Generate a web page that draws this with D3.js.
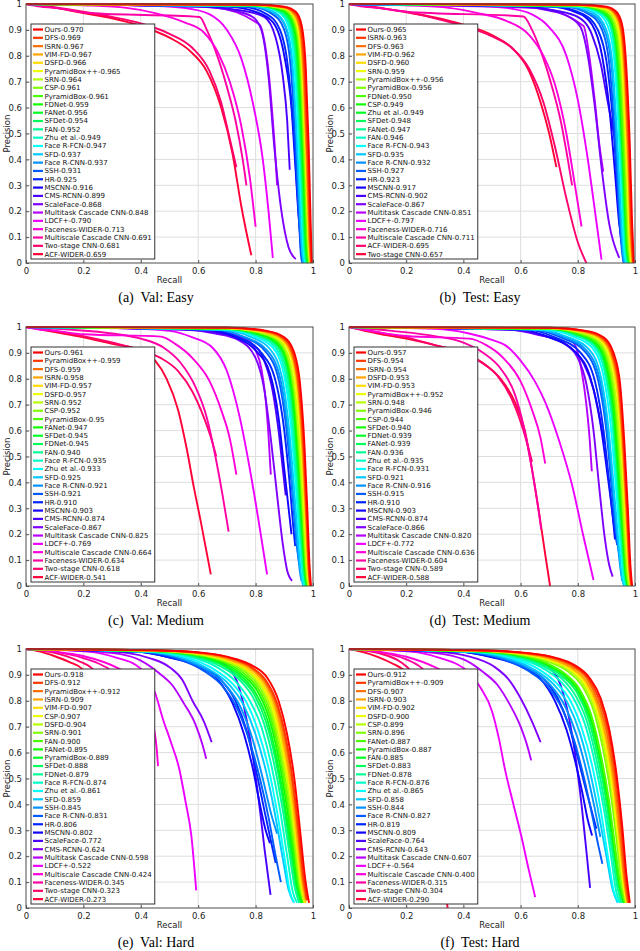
<!DOCTYPE html>
<html>
<head>
<meta charset="utf-8">
<script src="https://cdn.jsdelivr.net/npm/d3@7"></script>
<style>
body { margin: 0; background: #fff; }
text { font-family: "DejaVu Sans", sans-serif; }
.cap { font-family: "Liberation Serif", serif; white-space: pre; }
</style>
</head>
<body>
<svg id="fig" width="640" height="951"></svg>
<script>
var recallTicks = [0, 0.2, 0.4, 0.6, 0.8, 1];
var precisionTicks = [0, 0.1, 0.2, 0.3, 0.4, 0.5, 0.6, 0.7, 0.8, 0.9, 1];

// (a) Val: Easy
var valEasyNames = ['Ours', 'DFS', 'ISRN', 'VIM-FD', 'DSFD', 'PyramidBox++', 'SRN', 'CSP', 'PyramidBox', 'FDNet', 'FANet', 'SFDet', 'FAN', 'Zhu et al.', 'Face R-FCN', 'SFD', 'Face R-CNN', 'SSH', 'HR', 'MSCNN', 'CMS-RCNN', 'ScaleFace', 'Multitask Cascade CNN', 'LDCF+', 'Faceness-WIDER', 'Multiscale Cascade CNN', 'Two-stage CNN', 'ACF-WIDER'];
var valEasyAP = ['0.970', '0.969', '0.967', '0.967', '0.966', '0.965', '0.964', '0.961', '0.961', '0.959', '0.956', '0.954', '0.952', '0.949', '0.947', '0.937', '0.937', '0.931', '0.925', '0.916', '0.899', '0.868', '0.848', '0.790', '0.713', '0.691', '0.681', '0.659'];
var valEasyCurves = [
  [0,1, 0.8,0.998, 0.9,0.99, 0.94,0.97, 0.96,0.92, 0.975,0.75, 0.985,0.45, 0.992,0.15, 0.996,0],
  [0,1, 0.8,0.998, 0.9,0.988, 0.94,0.965, 0.958,0.91, 0.972,0.72, 0.982,0.42, 0.99,0.12, 0.995,0],
  [0,1, 0.8,0.997, 0.9,0.987, 0.935,0.965, 0.955,0.91, 0.97,0.7, 0.98,0.4, 0.988,0.1, 0.993,0],
  [0,1, 0.8,0.997, 0.9,0.986, 0.935,0.96, 0.954,0.9, 0.968,0.7, 0.978,0.4, 0.987,0.1, 0.992,0],
  [0,1, 0.8,0.997, 0.9,0.985, 0.932,0.96, 0.952,0.9, 0.967,0.68, 0.977,0.38, 0.985,0.1, 0.99,0],
  [0,1, 0.8,0.997, 0.9,0.984, 0.93,0.958, 0.951,0.89, 0.966,0.68, 0.977,0.36, 0.986,0.08, 0.99,0],
  [0,1, 0.8,0.996, 0.9,0.983, 0.93,0.955, 0.95,0.88, 0.964,0.66, 0.975,0.35, 0.984,0.08, 0.988,0],
  [0,1, 0.8,0.996, 0.895,0.98, 0.928,0.95, 0.948,0.87, 0.962,0.64, 0.973,0.34, 0.982,0.08, 0.987,0],
  [0,1, 0.8,0.996, 0.895,0.98, 0.926,0.95, 0.946,0.87, 0.96,0.64, 0.972,0.32, 0.98,0.07, 0.986,0],
  [0,1, 0.8,0.995, 0.89,0.978, 0.924,0.945, 0.944,0.86, 0.958,0.62, 0.969,0.32, 0.978,0.06, 0.984,0],
  [0,1, 0.8,0.995, 0.89,0.975, 0.922,0.94, 0.942,0.85, 0.956,0.6, 0.967,0.3, 0.976,0.06, 0.982,0],
  [0,1, 0.8,0.994, 0.885,0.973, 0.92,0.935, 0.94,0.84, 0.954,0.58, 0.965,0.3, 0.974,0.06, 0.98,0],
  [0,1, 0.8,0.994, 0.885,0.972, 0.918,0.93, 0.938,0.83, 0.952,0.57, 0.963,0.28, 0.972,0.05, 0.978,0],
  [0,1, 0.8,0.993, 0.88,0.97, 0.915,0.925, 0.935,0.82, 0.95,0.56, 0.961,0.27, 0.97,0.05, 0.976,0],
  [0,1, 0.8,0.993, 0.88,0.968, 0.912,0.92, 0.932,0.8, 0.947,0.54, 0.958,0.26, 0.967,0.05, 0.973,0],
  [0,1, 0.78,0.992, 0.87,0.965, 0.905,0.915, 0.928,0.78, 0.943,0.5, 0.954,0.24, 0.963,0.04, 0.968,0],
  [0,1, 0.78,0.992, 0.87,0.962, 0.905,0.91, 0.926,0.78, 0.942,0.5, 0.953,0.22, 0.962,0.04, 0.967,0],
  [0,1, 0.78,0.99, 0.86,0.96, 0.9,0.9, 0.922,0.76, 0.938,0.48, 0.95,0.2, 0.958,0.03, 0.963,0],
  [0,1, 0.75,0.99, 0.84,0.96, 0.885,0.9, 0.91,0.78, 0.93,0.55, 0.945,0.28, 0.958,0.05],
  [0,1, 0.7,0.99, 0.8,0.97, 0.86,0.93, 0.9,0.8, 0.925,0.6, 0.94,0.35, 0.952,0.15, 0.958,0.09],
  [0,1, 0.6,0.99, 0.75,0.975, 0.83,0.95, 0.87,0.87, 0.895,0.72, 0.91,0.55, 0.919,0.36],
  [0,1, 0.6,0.99, 0.72,0.975, 0.79,0.95, 0.82,0.9, 0.845,0.72, 0.865,0.45, 0.89,0.2, 0.915,0.06, 0.94,0.015],
  [0,1, 0.5,0.993, 0.652,0.987, 0.815,0.919, 0.83,0.86, 0.845,0.74, 0.858,0.58, 0.868,0.43, 0.875,0.3],
  [0,1, 0.4,0.995, 0.55,0.985, 0.64,0.96, 0.7,0.9, 0.75,0.79, 0.79,0.62, 0.825,0.4, 0.845,0.2, 0.86,0.02],
  [0,1, 0.2,0.995, 0.35,0.985, 0.45,0.965, 0.55,0.93, 0.62,0.89, 0.67,0.81, 0.71,0.7, 0.75,0.53, 0.78,0.33, 0.8,0.14],
  [0,1, 0.05,0.99, 0.1,0.985, 0.22,0.965, 0.605,0.95, 0.63,0.9, 0.66,0.82, 0.7,0.68, 0.73,0.55, 0.755,0.4, 0.768,0.3],
  [0,1, 0.1,0.988, 0.2,0.97, 0.3,0.95, 0.4,0.925, 0.5,0.885, 0.58,0.83, 0.64,0.74, 0.68,0.62, 0.71,0.48, 0.733,0.37],
  [0,1, 0.1,0.985, 0.2,0.965, 0.3,0.945, 0.4,0.915, 0.5,0.87, 0.57,0.82, 0.63,0.74, 0.68,0.6, 0.72,0.42, 0.75,0.22, 0.785,0.03]
];

// (b) Test: Easy
var testEasyNames = ['Ours', 'ISRN', 'DFS', 'VIM-FD', 'DSFD', 'SRN', 'PyramidBox++', 'PyramidBox', 'FDNet', 'CSP', 'Zhu et al.', 'SFDet', 'FANet', 'FAN', 'Face R-FCN', 'SFD', 'Face R-CNN', 'SSH', 'HR', 'MSCNN', 'CMS-RCNN', 'ScaleFace', 'Multitask Cascade CNN', 'LDCF+', 'Faceness-WIDER', 'Multiscale Cascade CNN', 'ACF-WIDER', 'Two-stage CNN'];
var testEasyAP = ['0.965', '0.963', '0.963', '0.962', '0.960', '0.959', '0.956', '0.956', '0.950', '0.949', '0.949', '0.948', '0.947', '0.946', '0.943', '0.935', '0.932', '0.927', '0.923', '0.917', '0.902', '0.867', '0.851', '0.797', '0.716', '0.711', '0.695', '0.657'];
var testEasyCurves = [
  [0,1, 0.8,0.998, 0.9,0.99, 0.935,0.97, 0.955,0.92, 0.97,0.75, 0.982,0.45, 0.99,0.15, 0.996,0],
  [0,1, 0.8,0.997, 0.9,0.988, 0.933,0.965, 0.953,0.91, 0.968,0.72, 0.98,0.42, 0.988,0.12, 0.994,0],
  [0,1, 0.8,0.997, 0.9,0.987, 0.932,0.963, 0.952,0.9, 0.967,0.7, 0.978,0.4, 0.987,0.1, 0.993,0],
  [0,1, 0.8,0.997, 0.9,0.985, 0.93,0.96, 0.95,0.9, 0.965,0.7, 0.976,0.4, 0.985,0.1, 0.991,0],
  [0,1, 0.8,0.996, 0.895,0.984, 0.928,0.958, 0.948,0.89, 0.963,0.68, 0.975,0.38, 0.984,0.08, 0.99,0],
  [0,1, 0.8,0.996, 0.895,0.982, 0.926,0.955, 0.946,0.88, 0.961,0.66, 0.973,0.36, 0.982,0.08, 0.988,0],
  [0,1, 0.8,0.995, 0.89,0.98, 0.923,0.95, 0.944,0.87, 0.959,0.64, 0.971,0.34, 0.98,0.07, 0.986,0],
  [0,1, 0.8,0.995, 0.89,0.978, 0.922,0.948, 0.942,0.86, 0.957,0.63, 0.969,0.33, 0.978,0.07, 0.985,0],
  [0,1, 0.8,0.994, 0.885,0.975, 0.918,0.94, 0.938,0.85, 0.953,0.6, 0.965,0.3, 0.975,0.06, 0.982,0],
  [0,1, 0.8,0.994, 0.885,0.974, 0.917,0.938, 0.937,0.84, 0.952,0.6, 0.964,0.3, 0.974,0.06, 0.981,0],
  [0,1, 0.8,0.993, 0.88,0.972, 0.915,0.935, 0.935,0.84, 0.95,0.58, 0.962,0.28, 0.972,0.05, 0.979,0],
  [0,1, 0.8,0.993, 0.88,0.971, 0.914,0.932, 0.934,0.83, 0.949,0.57, 0.961,0.28, 0.971,0.05, 0.978,0],
  [0,1, 0.8,0.992, 0.875,0.97, 0.912,0.93, 0.932,0.82, 0.947,0.56, 0.959,0.27, 0.969,0.05, 0.976,0],
  [0,1, 0.8,0.992, 0.875,0.968, 0.91,0.925, 0.93,0.81, 0.945,0.55, 0.957,0.26, 0.967,0.04, 0.974,0],
  [0,1, 0.78,0.991, 0.87,0.965, 0.905,0.915, 0.926,0.8, 0.942,0.53, 0.954,0.25, 0.964,0.04, 0.971,0],
  [0,1, 0.78,0.99, 0.86,0.962, 0.898,0.905, 0.92,0.78, 0.937,0.5, 0.95,0.22, 0.96,0.04, 0.966,0],
  [0,1, 0.76,0.99, 0.85,0.96, 0.893,0.9, 0.917,0.77, 0.934,0.5, 0.947,0.22, 0.957,0.04, 0.963,0],
  [0,1, 0.75,0.99, 0.84,0.96, 0.885,0.9, 0.91,0.77, 0.928,0.52, 0.942,0.25, 0.954,0.05, 0.96,0],
  [0,1, 0.72,0.99, 0.82,0.96, 0.87,0.9, 0.9,0.78, 0.922,0.56, 0.938,0.3, 0.95,0.1, 0.958,0.05],
  [0,1, 0.7,0.99, 0.8,0.965, 0.85,0.92, 0.885,0.8, 0.91,0.6, 0.93,0.35, 0.945,0.15, 0.955,0.08],
  [0,1, 0.6,0.99, 0.72,0.975, 0.8,0.95, 0.85,0.88, 0.88,0.77, 0.905,0.62, 0.926,0.5],
  [0,1, 0.6,0.99, 0.7,0.975, 0.77,0.95, 0.81,0.91, 0.835,0.8, 0.86,0.6, 0.885,0.35, 0.91,0.15, 0.945,0.02],
  [0,1, 0.5,0.99, 0.655,0.985, 0.82,0.915, 0.84,0.8, 0.86,0.62, 0.875,0.46, 0.889,0.353],
  [0,1, 0.4,0.995, 0.55,0.985, 0.64,0.96, 0.7,0.91, 0.76,0.8, 0.8,0.63, 0.835,0.4, 0.86,0.2, 0.883,0.013],
  [0,1, 0.2,0.995, 0.35,0.985, 0.45,0.965, 0.55,0.935, 0.63,0.88, 0.68,0.8, 0.72,0.69, 0.76,0.5, 0.79,0.3, 0.813,0.141],
  [0,1, 0.05,0.99, 0.1,0.985, 0.2,0.97, 0.61,0.952, 0.64,0.9, 0.67,0.82, 0.71,0.68, 0.74,0.55, 0.765,0.4, 0.78,0.3],
  [0,1, 0.1,0.985, 0.2,0.97, 0.3,0.945, 0.4,0.915, 0.5,0.875, 0.57,0.83, 0.63,0.75, 0.68,0.62, 0.72,0.45, 0.76,0.25, 0.8,0.08, 0.83,0],
  [0,1, 0.1,0.987, 0.2,0.968, 0.3,0.948, 0.4,0.92, 0.5,0.88, 0.57,0.83, 0.63,0.74, 0.67,0.62, 0.7,0.5, 0.725,0.37]
];

// (c) Val: Medium
var valMediumNames = ['Ours', 'PyramidBox++', 'DFS', 'ISRN', 'VIM-FD', 'DSFD', 'SRN', 'CSP', 'PyramidBox', 'FANet', 'SFDet', 'FDNet', 'FAN', 'Face R-FCN', 'Zhu et al.', 'SFD', 'Face R-CNN', 'SSH', 'HR', 'MSCNN', 'CMS-RCNN', 'ScaleFace', 'Multitask Cascade CNN', 'LDCF+', 'Multiscale Cascade CNN', 'Faceness-WIDER', 'Two-stage CNN', 'ACF-WIDER'];
var valMediumAP = ['0.961', '0.959', '0.959', '0.958', '0.957', '0.957', '0.952', '0.952', '0.95', '0.947', '0.945', '0.945', '0.940', '0.935', '0.933', '0.925', '0.921', '0.921', '0.910', '0.903', '0.874', '0.867', '0.825', '0.769', '0.664', '0.634', '0.618', '0.541'];
var valMediumCurves = [
  [0,1, 0.7,0.998, 0.84,0.985, 0.9,0.96, 0.935,0.9, 0.955,0.78, 0.97,0.55, 0.98,0.3, 0.988,0.08, 0.993,0],
  [0,1, 0.7,0.997, 0.84,0.983, 0.898,0.957, 0.933,0.89, 0.953,0.76, 0.968,0.53, 0.978,0.28, 0.986,0.07, 0.991,0],
  [0,1, 0.7,0.997, 0.84,0.982, 0.896,0.955, 0.931,0.885, 0.951,0.75, 0.966,0.52, 0.977,0.27, 0.985,0.07, 0.99,0],
  [0,1, 0.7,0.997, 0.83,0.982, 0.894,0.953, 0.93,0.88, 0.95,0.74, 0.965,0.5, 0.976,0.26, 0.984,0.06, 0.989,0],
  [0,1, 0.7,0.996, 0.83,0.98, 0.892,0.95, 0.928,0.875, 0.948,0.73, 0.963,0.5, 0.974,0.25, 0.983,0.06, 0.988,0],
  [0,1, 0.7,0.996, 0.83,0.98, 0.89,0.948, 0.926,0.87, 0.946,0.72, 0.962,0.48, 0.973,0.24, 0.982,0.06, 0.987,0],
  [0,1, 0.7,0.995, 0.82,0.978, 0.885,0.945, 0.921,0.86, 0.942,0.7, 0.958,0.46, 0.97,0.22, 0.979,0.05, 0.985,0],
  [0,1, 0.7,0.995, 0.82,0.977, 0.884,0.943, 0.92,0.855, 0.941,0.7, 0.957,0.45, 0.969,0.22, 0.978,0.05, 0.984,0],
  [0,1, 0.7,0.994, 0.82,0.975, 0.882,0.94, 0.918,0.85, 0.939,0.69, 0.955,0.44, 0.967,0.2, 0.976,0.05, 0.982,0],
  [0,1, 0.7,0.994, 0.81,0.974, 0.878,0.937, 0.915,0.845, 0.936,0.68, 0.953,0.43, 0.965,0.2, 0.975,0.04, 0.981,0],
  [0,1, 0.7,0.993, 0.81,0.972, 0.876,0.933, 0.913,0.84, 0.934,0.67, 0.951,0.42, 0.963,0.19, 0.973,0.04, 0.979,0],
  [0,1, 0.7,0.993, 0.81,0.971, 0.875,0.932, 0.912,0.835, 0.933,0.66, 0.95,0.41, 0.962,0.19, 0.972,0.04, 0.978,0],
  [0,1, 0.7,0.992, 0.8,0.97, 0.87,0.93, 0.908,0.83, 0.93,0.65, 0.947,0.4, 0.96,0.18, 0.97,0.04, 0.976,0],
  [0,1, 0.7,0.991, 0.8,0.968, 0.865,0.925, 0.904,0.82, 0.926,0.64, 0.944,0.38, 0.957,0.17, 0.967,0.03, 0.973,0],
  [0,1, 0.7,0.99, 0.79,0.966, 0.86,0.92, 0.9,0.81, 0.923,0.62, 0.941,0.37, 0.955,0.16, 0.965,0.03, 0.971,0],
  [0,1, 0.68,0.99, 0.78,0.963, 0.85,0.915, 0.893,0.8, 0.917,0.6, 0.936,0.35, 0.95,0.15, 0.96,0.03, 0.966,0],
  [0,1, 0.66,0.99, 0.76,0.962, 0.84,0.91, 0.886,0.8, 0.912,0.6, 0.931,0.35, 0.945,0.16, 0.955,0.05, 0.96,0.02],
  [0,1, 0.66,0.99, 0.76,0.96, 0.835,0.905, 0.882,0.79, 0.908,0.6, 0.928,0.36, 0.942,0.17, 0.952,0.087],
  [0,1, 0.64,0.99, 0.74,0.96, 0.82,0.9, 0.87,0.79, 0.9,0.6, 0.92,0.38, 0.932,0.22, 0.938,0.154],
  [0,1, 0.62,0.99, 0.73,0.96, 0.8,0.91, 0.85,0.82, 0.88,0.65, 0.9,0.45, 0.915,0.3, 0.925,0.2],
  [0,1, 0.55,0.99, 0.68,0.975, 0.78,0.94, 0.83,0.87, 0.86,0.75, 0.88,0.6, 0.895,0.45, 0.905,0.35],
  [0,1, 0.55,0.99, 0.66,0.975, 0.74,0.95, 0.8,0.88, 0.83,0.76, 0.855,0.55, 0.875,0.35, 0.895,0.16, 0.91,0.06, 0.927,0.02],
  [0,1, 0.5,0.993, 0.65,0.985, 0.77,0.95, 0.8,0.91, 0.82,0.84, 0.835,0.72, 0.845,0.58, 0.853,0.43],
  [0,1, 0.35,0.995, 0.5,0.985, 0.58,0.96, 0.65,0.92, 0.7,0.83, 0.745,0.65, 0.785,0.42, 0.815,0.22, 0.84,0.045],
  [0,1, 0.05,0.99, 0.1,0.985, 0.2,0.972, 0.47,0.963, 0.52,0.935, 0.58,0.88, 0.64,0.79, 0.68,0.68, 0.71,0.57, 0.733,0.43],
  [0,1, 0.15,0.99, 0.3,0.975, 0.4,0.955, 0.48,0.92, 0.54,0.86, 0.59,0.77, 0.63,0.65, 0.66,0.5, 0.685,0.35, 0.706,0.21],
  [0,1, 0.1,0.985, 0.2,0.965, 0.3,0.94, 0.4,0.91, 0.47,0.88, 0.53,0.83, 0.58,0.75, 0.62,0.65, 0.648,0.56, 0.663,0.5],
  [0,1, 0.1,0.98, 0.2,0.96, 0.3,0.935, 0.4,0.91, 0.45,0.87, 0.49,0.8, 0.53,0.68, 0.56,0.53, 0.585,0.38, 0.607,0.26, 0.644,0.045]
];

// (d) Test: Medium
var testMediumNames = ['Ours', 'DFS', 'ISRN', 'DSFD', 'VIM-FD', 'PyramidBox++', 'SRN', 'PyramidBox', 'CSP', 'SFDet', 'FDNet', 'FANet', 'FAN', 'Zhu et al.', 'Face R-FCN', 'SFD', 'Face R-CNN', 'SSH', 'HR', 'MSCNN', 'CMS-RCNN', 'ScaleFace', 'Multitask Cascade CNN', 'LDCF+', 'Multiscale Cascade CNN', 'Faceness-WIDER', 'Two-stage CNN', 'ACF-WIDER'];
var testMediumAP = ['0.957', '0.954', '0.954', '0.953', '0.953', '0.952', '0.948', '0.946', '0.944', '0.940', '0.939', '0.939', '0.936', '0.935', '0.931', '0.921', '0.916', '0.915', '0.910', '0.903', '0.874', '0.866', '0.820', '0.772', '0.636', '0.604', '0.589', '0.588'];
var testMediumCurves = [
  [0,1, 0.7,0.997, 0.83,0.985, 0.89,0.96, 0.925,0.9, 0.948,0.78, 0.963,0.55, 0.975,0.3, 0.984,0.08, 0.99,0],
  [0,1, 0.7,0.997, 0.83,0.983, 0.888,0.957, 0.923,0.89, 0.946,0.76, 0.961,0.53, 0.973,0.28, 0.982,0.07, 0.988,0],
  [0,1, 0.7,0.997, 0.83,0.982, 0.886,0.955, 0.922,0.885, 0.945,0.75, 0.96,0.52, 0.972,0.27, 0.981,0.07, 0.987,0],
  [0,1, 0.7,0.996, 0.82,0.982, 0.884,0.953, 0.92,0.88, 0.943,0.74, 0.959,0.5, 0.971,0.26, 0.98,0.06, 0.986,0],
  [0,1, 0.7,0.996, 0.82,0.98, 0.882,0.95, 0.918,0.875, 0.941,0.73, 0.957,0.5, 0.969,0.25, 0.979,0.06, 0.985,0],
  [0,1, 0.7,0.996, 0.82,0.98, 0.88,0.948, 0.916,0.87, 0.94,0.72, 0.956,0.48, 0.968,0.24, 0.978,0.06, 0.984,0],
  [0,1, 0.7,0.995, 0.81,0.978, 0.875,0.945, 0.912,0.86, 0.936,0.7, 0.952,0.46, 0.965,0.22, 0.975,0.05, 0.981,0],
  [0,1, 0.7,0.995, 0.81,0.977, 0.873,0.942, 0.91,0.855, 0.934,0.69, 0.95,0.45, 0.963,0.21, 0.973,0.05, 0.98,0],
  [0,1, 0.7,0.994, 0.8,0.975, 0.87,0.94, 0.907,0.85, 0.931,0.68, 0.948,0.44, 0.961,0.2, 0.971,0.05, 0.978,0],
  [0,1, 0.7,0.994, 0.8,0.973, 0.866,0.935, 0.904,0.84, 0.928,0.67, 0.945,0.42, 0.958,0.2, 0.969,0.04, 0.976,0],
  [0,1, 0.7,0.993, 0.8,0.972, 0.864,0.933, 0.902,0.835, 0.926,0.66, 0.943,0.41, 0.957,0.19, 0.968,0.04, 0.975,0],
  [0,1, 0.7,0.993, 0.8,0.971, 0.863,0.932, 0.901,0.83, 0.925,0.66, 0.942,0.41, 0.956,0.19, 0.967,0.04, 0.974,0],
  [0,1, 0.7,0.992, 0.79,0.97, 0.86,0.93, 0.898,0.825, 0.922,0.65, 0.94,0.4, 0.954,0.18, 0.965,0.04, 0.972,0],
  [0,1, 0.7,0.991, 0.79,0.968, 0.856,0.925, 0.895,0.82, 0.92,0.64, 0.938,0.38, 0.952,0.17, 0.963,0.03, 0.97,0],
  [0,1, 0.68,0.99, 0.78,0.965, 0.85,0.92, 0.89,0.81, 0.915,0.62, 0.934,0.37, 0.949,0.16, 0.96,0.03, 0.967,0],
  [0,1, 0.66,0.99, 0.76,0.963, 0.84,0.913, 0.882,0.8, 0.908,0.6, 0.928,0.35, 0.944,0.15, 0.955,0.03, 0.962,0],
  [0,1, 0.65,0.99, 0.75,0.962, 0.83,0.91, 0.876,0.8, 0.903,0.6, 0.924,0.36, 0.94,0.16, 0.95,0.06, 0.955,0.02],
  [0,1, 0.64,0.99, 0.74,0.96, 0.825,0.905, 0.872,0.79, 0.9,0.6, 0.92,0.36, 0.938,0.17, 0.953,0.084],
  [0,1, 0.62,0.99, 0.72,0.96, 0.81,0.9, 0.86,0.79, 0.89,0.6, 0.91,0.4, 0.928,0.22, 0.938,0.158],
  [0,1, 0.6,0.99, 0.7,0.96, 0.79,0.905, 0.845,0.8, 0.88,0.62, 0.905,0.42, 0.922,0.27, 0.93,0.18],
  [0,1, 0.55,0.99, 0.67,0.97, 0.76,0.93, 0.82,0.86, 0.855,0.76, 0.875,0.66, 0.893,0.546],
  [0,1, 0.55,0.99, 0.66,0.97, 0.74,0.945, 0.8,0.88, 0.83,0.78, 0.855,0.6, 0.875,0.38, 0.895,0.18, 0.91,0.08, 0.922,0.036],
  [0,1, 0.5,0.993, 0.66,0.99, 0.78,0.945, 0.8,0.9, 0.815,0.82, 0.83,0.7, 0.842,0.56, 0.849,0.443],
  [0,1, 0.3,0.993, 0.42,0.975, 0.5,0.95, 0.546,0.93, 0.6,0.87, 0.65,0.79, 0.686,0.71, 0.735,0.56, 0.78,0.39, 0.82,0.19, 0.855,0.023],
  [0,1, 0.05,0.99, 0.1,0.98, 0.2,0.965, 0.42,0.955, 0.48,0.93, 0.54,0.88, 0.6,0.79, 0.64,0.68, 0.67,0.57, 0.686,0.473],
  [0,1, 0.15,0.985, 0.3,0.965, 0.4,0.94, 0.47,0.9, 0.53,0.84, 0.58,0.74, 0.61,0.62, 0.635,0.48, 0.655,0.35, 0.672,0.219],
  [0,1, 0.1,0.98, 0.2,0.96, 0.3,0.93, 0.4,0.9, 0.46,0.865, 0.52,0.81, 0.57,0.72, 0.61,0.6, 0.64,0.48],
  [0,1, 0.1,0.975, 0.2,0.955, 0.3,0.93, 0.4,0.9, 0.47,0.86, 0.53,0.8, 0.58,0.71, 0.615,0.6, 0.64,0.45, 0.665,0.28, 0.685,0.13, 0.703,0]
];

// (e) Val: Hard
var valHardNames = ['Ours', 'DFS', 'PyramidBox++', 'ISRN', 'VIM-FD', 'CSP', 'DSFD', 'SRN', 'FAN', 'FANet', 'PyramidBox', 'SFDet', 'FDNet', 'Face R-FCN', 'Zhu et al.', 'SFD', 'SSH', 'Face R-CNN', 'HR', 'MSCNN', 'ScaleFace', 'CMS-RCNN', 'Multitask Cascade CNN', 'LDCF+', 'Multiscale Cascade CNN', 'Faceness-WIDER', 'Two-stage CNN', 'ACF-WIDER'];
var valHardAP = ['0.918', '0.912', '0.912', '0.909', '0.907', '0.907', '0.904', '0.901', '0.900', '0.895', '0.889', '0.888', '0.879', '0.874', '0.861', '0.859', '0.845', '0.831', '0.806', '0.802', '0.772', '0.624', '0.598', '0.522', '0.424', '0.345', '0.323', '0.273'];
var valHardCurves = [
  [0,1, 0.45,0.995, 0.62,0.985, 0.72,0.965, 0.79,0.935, 0.84,0.89, 0.88,0.8, 0.91,0.67, 0.935,0.5, 0.955,0.3, 0.972,0.12, 0.986,0.02],
  [0,1, 0.45,0.995, 0.62,0.984, 0.72,0.963, 0.785,0.93, 0.835,0.88, 0.875,0.79, 0.905,0.66, 0.93,0.49, 0.95,0.3, 0.967,0.12, 0.98,0.03],
  [0,1, 0.45,0.995, 0.62,0.983, 0.72,0.96, 0.785,0.928, 0.833,0.875, 0.872,0.785, 0.902,0.65, 0.928,0.48, 0.948,0.29, 0.965,0.11, 0.978,0.03],
  [0,1, 0.45,0.994, 0.61,0.982, 0.71,0.958, 0.78,0.925, 0.83,0.87, 0.868,0.78, 0.898,0.64, 0.924,0.47, 0.945,0.28, 0.962,0.11, 0.975,0.03],
  [0,1, 0.45,0.994, 0.61,0.981, 0.71,0.955, 0.775,0.92, 0.825,0.865, 0.865,0.77, 0.895,0.63, 0.921,0.46, 0.942,0.27, 0.96,0.1, 0.973,0.02],
  [0,1, 0.45,0.994, 0.61,0.98, 0.705,0.955, 0.775,0.918, 0.823,0.86, 0.862,0.765, 0.893,0.62, 0.92,0.45, 0.942,0.26, 0.96,0.09, 0.975,0.02],
  [0,1, 0.45,0.993, 0.6,0.98, 0.7,0.952, 0.77,0.915, 0.82,0.855, 0.858,0.76, 0.89,0.61, 0.917,0.44, 0.938,0.26, 0.956,0.09, 0.97,0.02],
  [0,1, 0.45,0.993, 0.6,0.978, 0.7,0.95, 0.765,0.91, 0.815,0.85, 0.855,0.75, 0.886,0.6, 0.913,0.43, 0.935,0.25, 0.953,0.09, 0.968,0.02],
  [0,1, 0.45,0.993, 0.6,0.977, 0.695,0.948, 0.76,0.905, 0.81,0.845, 0.85,0.745, 0.882,0.6, 0.91,0.42, 0.933,0.24, 0.952,0.08, 0.97,0.03],
  [0,1, 0.45,0.992, 0.6,0.976, 0.69,0.945, 0.755,0.9, 0.805,0.84, 0.845,0.74, 0.878,0.59, 0.906,0.41, 0.93,0.23, 0.95,0.08, 0.965,0.02],
  [0,1, 0.44,0.992, 0.59,0.975, 0.685,0.94, 0.75,0.895, 0.8,0.83, 0.84,0.73, 0.873,0.58, 0.9,0.41, 0.925,0.23, 0.945,0.08, 0.96,0.02],
  [0,1, 0.44,0.992, 0.59,0.974, 0.68,0.94, 0.745,0.89, 0.795,0.825, 0.836,0.72, 0.87,0.57, 0.898,0.4, 0.922,0.22, 0.942,0.08, 0.958,0.02],
  [0,1, 0.44,0.991, 0.58,0.972, 0.675,0.935, 0.74,0.885, 0.79,0.815, 0.83,0.71, 0.864,0.56, 0.893,0.39, 0.918,0.21, 0.938,0.07, 0.952,0.02],
  [0,1, 0.43,0.99, 0.57,0.97, 0.665,0.93, 0.73,0.875, 0.78,0.8, 0.82,0.7, 0.855,0.55, 0.885,0.38, 0.91,0.2, 0.93,0.06, 0.945,0.02],
  [0,1, 0.42,0.99, 0.56,0.967, 0.65,0.925, 0.72,0.865, 0.77,0.79, 0.81,0.68, 0.845,0.54, 0.875,0.37, 0.9,0.2, 0.92,0.06, 0.935,0.02],
  [0,1, 0.42,0.99, 0.55,0.965, 0.64,0.92, 0.71,0.86, 0.76,0.78, 0.8,0.67, 0.838,0.52, 0.868,0.36, 0.895,0.19, 0.915,0.07, 0.932,0.023],
  [0,1, 0.4,0.99, 0.54,0.963, 0.63,0.918, 0.7,0.855, 0.75,0.77, 0.79,0.65, 0.825,0.5, 0.855,0.36, 0.875,0.287],
  [0,1, 0.4,0.99, 0.53,0.962, 0.62,0.915, 0.69,0.85, 0.74,0.76, 0.78,0.64, 0.815,0.5, 0.845,0.35, 0.87,0.2, 0.888,0.1],
  [0,1, 0.38,0.99, 0.5,0.968, 0.6,0.935, 0.68,0.88, 0.73,0.8, 0.77,0.68, 0.8,0.54, 0.83,0.38, 0.855,0.25, 0.87,0.174],
  [0,1, 0.38,0.99, 0.5,0.967, 0.6,0.932, 0.67,0.88, 0.72,0.79, 0.76,0.67, 0.79,0.54, 0.815,0.4, 0.835,0.3, 0.85,0.25],
  [0,1, 0.35,0.99, 0.55,0.985, 0.65,0.96, 0.703,0.93, 0.74,0.86, 0.77,0.72, 0.795,0.55, 0.815,0.38, 0.832,0.22, 0.852,0.051],
  [0,1, 0.2,0.995, 0.35,0.985, 0.43,0.965, 0.5,0.93, 0.545,0.88, 0.58,0.8, 0.62,0.72, 0.647,0.64],
  [0,1, 0.2,0.993, 0.33,0.98, 0.4,0.955, 0.46,0.91, 0.51,0.86, 0.55,0.79, 0.59,0.71, 0.615,0.63, 0.628,0.576],
  [0,1, 0.15,0.995, 0.25,0.985, 0.32,0.965, 0.38,0.94, 0.42,0.9, 0.45,0.83, 0.477,0.73, 0.505,0.64, 0.534,0.537, 0.556,0.41, 0.576,0.28, 0.593,0.068],
  [0,1, 0.1,0.99, 0.195,0.974, 0.322,0.925, 0.36,0.9, 0.4,0.86, 0.43,0.79, 0.445,0.7, 0.455,0.62, 0.46,0.548],
  [0,1, 0.1,0.99, 0.2,0.965, 0.26,0.94, 0.31,0.9, 0.34,0.83, 0.36,0.7, 0.375,0.5, 0.385,0.35],
  [0,1, 0.1,0.985, 0.18,0.955, 0.23,0.925, 0.27,0.87, 0.3,0.75, 0.32,0.55, 0.335,0.35],
  [0,1, 0.05,0.99, 0.096,0.974, 0.15,0.95, 0.195,0.923, 0.23,0.85, 0.26,0.66, 0.28,0.42, 0.29,0.2]
];

// (f) Test: Hard
var testHardNames = ['Ours', 'PyramidBox++', 'DFS', 'ISRN', 'VIM-FD', 'DSFD', 'CSP', 'SRN', 'FANet', 'PyramidBox', 'FAN', 'SFDet', 'FDNet', 'Face R-FCN', 'Zhu et al.', 'SFD', 'SSH', 'Face R-CNN', 'HR', 'MSCNN', 'ScaleFace', 'CMS-RCNN', 'Multitask Cascade CNN', 'LDCF+', 'Multiscale Cascade CNN', 'Faceness-WIDER', 'Two-stage CNN', 'ACF-WIDER'];
var testHardAP = ['0.912', '0.909', '0.907', '0.903', '0.902', '0.900', '0.899', '0.896', '0.887', '0.887', '0.885', '0.883', '0.878', '0.876', '0.865', '0.858', '0.844', '0.827', '0.819', '0.809', '0.764', '0.643', '0.607', '0.564', '0.400', '0.315', '0.304', '0.290'];
var testHardCurves = [
  [0,1, 0.45,0.995, 0.62,0.985, 0.72,0.967, 0.79,0.937, 0.84,0.89, 0.88,0.81, 0.91,0.69, 0.935,0.52, 0.955,0.32, 0.97,0.13, 0.982,0.02],
  [0,1, 0.45,0.995, 0.62,0.984, 0.72,0.965, 0.788,0.934, 0.838,0.885, 0.877,0.8, 0.907,0.68, 0.932,0.51, 0.952,0.31, 0.967,0.12, 0.979,0.02],
  [0,1, 0.45,0.995, 0.62,0.983, 0.72,0.962, 0.785,0.93, 0.835,0.88, 0.873,0.79, 0.903,0.67, 0.928,0.5, 0.948,0.3, 0.964,0.11, 0.976,0.02],
  [0,1, 0.45,0.994, 0.61,0.982, 0.71,0.96, 0.78,0.926, 0.83,0.875, 0.869,0.785, 0.899,0.66, 0.925,0.49, 0.945,0.29, 0.962,0.11, 0.974,0.02],
  [0,1, 0.45,0.994, 0.61,0.981, 0.71,0.958, 0.778,0.923, 0.828,0.87, 0.866,0.78, 0.897,0.65, 0.923,0.48, 0.944,0.28, 0.961,0.1, 0.973,0.02],
  [0,1, 0.45,0.994, 0.61,0.98, 0.705,0.956, 0.775,0.92, 0.825,0.865, 0.863,0.775, 0.894,0.64, 0.92,0.47, 0.941,0.27, 0.958,0.1, 0.97,0.02],
  [0,1, 0.45,0.993, 0.6,0.98, 0.7,0.954, 0.772,0.917, 0.822,0.86, 0.86,0.77, 0.891,0.63, 0.918,0.46, 0.94,0.27, 0.958,0.09, 0.972,0.02],
  [0,1, 0.45,0.993, 0.6,0.978, 0.7,0.95, 0.767,0.912, 0.817,0.855, 0.856,0.76, 0.887,0.62, 0.914,0.45, 0.936,0.26, 0.954,0.09, 0.967,0.02],
  [0,1, 0.45,0.992, 0.6,0.976, 0.69,0.946, 0.757,0.903, 0.807,0.843, 0.847,0.745, 0.879,0.6, 0.907,0.43, 0.93,0.24, 0.95,0.08, 0.965,0.02],
  [0,1, 0.44,0.992, 0.59,0.975, 0.688,0.944, 0.755,0.9, 0.805,0.84, 0.845,0.74, 0.877,0.6, 0.905,0.42, 0.928,0.24, 0.948,0.08, 0.962,0.02],
  [0,1, 0.44,0.992, 0.59,0.975, 0.685,0.943, 0.752,0.898, 0.802,0.836, 0.842,0.735, 0.875,0.59, 0.903,0.42, 0.927,0.23, 0.947,0.08, 0.963,0.02],
  [0,1, 0.44,0.991, 0.59,0.974, 0.68,0.94, 0.748,0.893, 0.798,0.83, 0.838,0.728, 0.871,0.58, 0.9,0.41, 0.924,0.23, 0.944,0.08, 0.958,0.02],
  [0,1, 0.44,0.991, 0.58,0.972, 0.675,0.936, 0.742,0.888, 0.792,0.82, 0.832,0.72, 0.866,0.57, 0.895,0.4, 0.92,0.22, 0.94,0.07, 0.953,0.02],
  [0,1, 0.43,0.99, 0.57,0.97, 0.668,0.932, 0.735,0.88, 0.785,0.81, 0.825,0.71, 0.86,0.56, 0.89,0.39, 0.915,0.21, 0.935,0.06, 0.948,0.02],
  [0,1, 0.42,0.99, 0.56,0.968, 0.655,0.927, 0.724,0.87, 0.774,0.8, 0.815,0.69, 0.85,0.55, 0.88,0.38, 0.905,0.2, 0.927,0.06, 0.943,0.023],
  [0,1, 0.42,0.99, 0.55,0.966, 0.645,0.922, 0.714,0.865, 0.765,0.79, 0.806,0.68, 0.842,0.53, 0.872,0.37, 0.9,0.2, 0.922,0.07, 0.94,0.02],
  [0,1, 0.4,0.99, 0.54,0.964, 0.635,0.92, 0.705,0.86, 0.755,0.78, 0.795,0.67, 0.83,0.53, 0.86,0.38, 0.879,0.274],
  [0,1, 0.4,0.99, 0.53,0.963, 0.625,0.917, 0.695,0.855, 0.745,0.77, 0.785,0.655, 0.82,0.51, 0.85,0.36, 0.872,0.24, 0.886,0.171],
  [0,1, 0.38,0.99, 0.5,0.97, 0.6,0.937, 0.68,0.885, 0.73,0.81, 0.77,0.7, 0.8,0.58, 0.83,0.45, 0.852,0.36, 0.865,0.306],
  [0,1, 0.38,0.99, 0.5,0.968, 0.6,0.934, 0.67,0.885, 0.72,0.8, 0.76,0.69, 0.79,0.57, 0.815,0.45, 0.835,0.34, 0.85,0.28],
  [0,1, 0.35,0.99, 0.55,0.985, 0.65,0.96, 0.7,0.93, 0.74,0.86, 0.77,0.73, 0.795,0.56, 0.815,0.38, 0.83,0.22, 0.843,0.078],
  [0,1, 0.2,0.995, 0.35,0.985, 0.44,0.965, 0.51,0.93, 0.56,0.88, 0.6,0.81, 0.64,0.72, 0.67,0.64],
  [0,1, 0.2,0.993, 0.33,0.98, 0.41,0.955, 0.47,0.91, 0.52,0.86, 0.56,0.79, 0.6,0.7, 0.625,0.62, 0.637,0.57],
  [0,1, 0.15,0.995, 0.25,0.985, 0.32,0.965, 0.38,0.94, 0.42,0.91, 0.46,0.85, 0.5,0.76, 0.525,0.65, 0.545,0.537, 0.575,0.4, 0.602,0.28, 0.628,0.15, 0.651,0.042],
  [0,1, 0.1,0.99, 0.2,0.97, 0.3,0.93, 0.35,0.9, 0.39,0.85, 0.42,0.77, 0.435,0.68, 0.445,0.6],
  [0,1, 0.1,0.99, 0.2,0.96, 0.25,0.93, 0.29,0.88, 0.32,0.78, 0.34,0.62, 0.355,0.45, 0.365,0.3],
  [0,1, 0.1,0.985, 0.18,0.95, 0.22,0.91, 0.25,0.85, 0.28,0.72, 0.3,0.55, 0.315,0.35],
  [0,1, 0.05,0.988, 0.1,0.97, 0.15,0.945, 0.2,0.91, 0.24,0.85, 0.27,0.72, 0.295,0.52, 0.315,0.3, 0.33,0.13, 0.345,0]
];

var panels = [
  {label: '(a)', title: 'Val: Easy', names: valEasyNames, ap: valEasyAP, curves: valEasyCurves, col: 0, row: 0},
  {label: '(b)', title: 'Test: Easy', names: testEasyNames, ap: testEasyAP, curves: testEasyCurves, col: 1, row: 0},
  {label: '(c)', title: 'Val: Medium', names: valMediumNames, ap: valMediumAP, curves: valMediumCurves, col: 0, row: 1},
  {label: '(d)', title: 'Test: Medium', names: testMediumNames, ap: testMediumAP, curves: testMediumCurves, col: 1, row: 1},
  {label: '(e)', title: 'Val: Hard', names: valHardNames, ap: valHardAP, curves: valHardCurves, col: 0, row: 2},
  {label: '(f)', title: 'Test: Hard', names: testHardNames, ap: testHardAP, curves: testHardCurves, col: 1, row: 2}
];

var colLeft = [26, 349], colRight = [313, 635], colCenter = [156, 480];
var rowTop = [4, 327, 649], plotH = 259;

var svg = d3.select('#fig');

function pairs(a) {
  var out = [];
  for (var i = 0; i < a.length; i += 2) out.push([a[i], a[i + 1]]);
  return out;
}

panels.forEach(function(pn) {
  var x0 = colLeft[pn.col], x1 = colRight[pn.col];
  var y0 = rowTop[pn.row], y1 = y0 + plotH;
  var x = d3.scaleLinear().domain([0, 1]).range([x0, x1]);
  var y = d3.scaleLinear().domain([0, 1]).range([y1, y0]);
  var n = pn.names.length;
  var color = function(i) { return d3.hsl(i * 360 / n, 1, 0.5).toString(); };

  var g = svg.append('g');

  g.selectAll('.vg').data(recallTicks.slice(1, -1)).enter().append('line')
    .attr('x1', function(d) { return x(d); }).attr('x2', function(d) { return x(d); })
    .attr('y1', y0).attr('y2', y1)
    .attr('stroke', '#dedede').attr('stroke-width', 1);
  g.selectAll('.hg').data(precisionTicks.slice(1, -1)).enter().append('line')
    .attr('x1', x0).attr('x2', x1)
    .attr('y1', function(d) { return y(d); }).attr('y2', function(d) { return y(d); })
    .attr('stroke', '#dedede').attr('stroke-width', 1);

  var xAxis = d3.axisBottom(x).tickValues(recallTicks).tickFormat(function(d) { return String(d); })
    .tickSizeInner(-3).tickSizeOuter(0).tickPadding(5);
  var yAxis = d3.axisLeft(y).tickValues(precisionTicks).tickFormat(function(d) { return String(d); })
    .tickSizeInner(-3).tickSizeOuter(0).tickPadding(4);

  var gx = g.append('g').attr('transform', 'translate(0,' + y1 + ')').call(xAxis);
  var gy = g.append('g').attr('transform', 'translate(' + x0 + ',0)').call(yAxis);
  [gx, gy].forEach(function(ax) {
    ax.select('.domain').remove();
    ax.selectAll('line').attr('stroke', '#555');
    ax.selectAll('text').attr('font-size', 8.5).attr('fill', '#222')
      .style('font-family', '"DejaVu Sans", sans-serif');
  });

  var line = d3.line()
    .x(function(d) { return x(d[0]); })
    .y(function(d) { return y(d[1]); })
    .curve(d3.curveMonotoneX);

  var order = d3.range(n).reverse();
  g.selectAll('.curve').data(order).enter().append('path')
    .attr('d', function(i) { return line(pairs(pn.curves[i])); })
    .attr('fill', 'none')
    .attr('stroke', function(i) { return color(i); })
    .attr('stroke-width', 1.9)
    .attr('stroke-linejoin', 'round');

  g.append('rect').attr('x', x0).attr('y', y0).attr('width', x1 - x0).attr('height', y1 - y0)
    .attr('fill', 'none').attr('stroke', '#4d4d4d').attr('stroke-width', 1);

  // legend
  var lx = x0 + 5, ly = y0 + 20, rowH = 8.32;
  var leg = g.append('g');
  var box = leg.append('rect').attr('x', lx).attr('y', ly).attr('height', 235)
    .attr('fill', '#fff').attr('stroke', '#333').attr('stroke-width', 1);
  var rows = leg.selectAll('.row').data(d3.range(n)).enter().append('g')
    .attr('transform', function(i) { return 'translate(0,' + (ly + 5.5 + i * rowH) + ')'; });
  rows.append('line')
    .attr('x1', lx + 2).attr('x2', lx + 12).attr('y1', 0).attr('y2', 0)
    .attr('stroke', function(i) { return color(i); }).attr('stroke-width', 2.2);
  var labels = rows.append('text')
    .attr('x', lx + 13.5).attr('y', 0).attr('dy', '0.35em')
    .attr('font-size', 7).attr('fill', '#111')
    .text(function(i) { return pn.names[i] + '-' + pn.ap[i]; });
  var maxW = 0;
  labels.each(function() { maxW = Math.max(maxW, this.getComputedTextLength()); });
  box.attr('width', 13.5 + maxW + 3);

  g.append('text').attr('x', (x0 + x1) / 2).attr('y', y1 + 20)
    .attr('text-anchor', 'middle').attr('font-size', 8.5).attr('fill', '#222').text('Recall');
  g.append('text')
    .attr('transform', 'translate(' + (x0 - 16) + ',' + ((y0 + y1) / 2) + ') rotate(-90)')
    .attr('text-anchor', 'middle').attr('font-size', 8.5).attr('fill', '#222').text('Precision');
  g.append('text').attr('class', 'cap')
    .attr('x', colCenter[pn.col]).attr('y', y1 + 39)
    .attr('text-anchor', 'middle').attr('font-size', 14).attr('fill', '#000')
    .text(pn.label + '  ' + pn.title);
});
</script>
</body>
</html>
